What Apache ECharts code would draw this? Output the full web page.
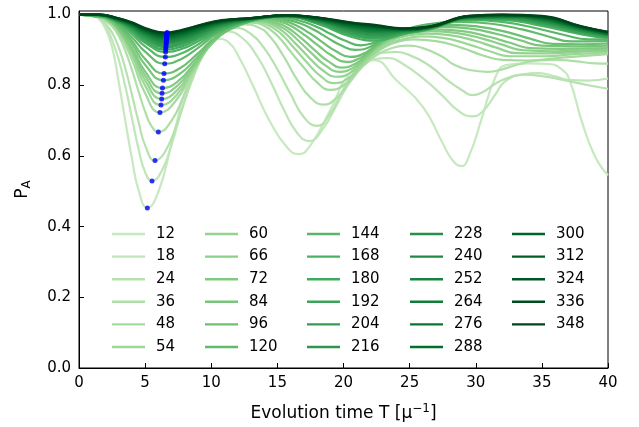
<!DOCTYPE html>
<html>
<head>
<meta charset="utf-8">
<script src="https://cdn.jsdelivr.net/npm/echarts@6/dist/echarts.min.js"></script>
<style>html,body{margin:0;padding:0;background:#fff;}#c{width:639px;height:427px;}</style>
</head>
<body>
<div id="c"></div>
<script>
// ---- data ----
const seriesNames = ['12','18','24','36','48','54','60','66','72','84','96','120','144','168','180','192','204','216','228','240','252','264','276','288','300','312','324','336','348'];
const legendCols = [['12','18','24','36','48','54'],['60','66','72','84','96','120'],['144','168','180','192','204','216'],['228','240','252','264','276','288'],['300','312','324','336','348']];
const xTicks = [0,5,10,15,20,25,30,35,40];
const yTicks = [0,0.2,0.4,0.6,0.8,1.0];

// first-dip minima (blue dots)
const dipT = [5.17,5.52,5.75,6.00,6.12,6.20,6.25,6.28,6.31,6.38,6.43,6.48,6.53,6.55,6.56,6.57,6.58,6.59,6.60,6.61,6.61,6.62,6.63,6.63,6.64,6.64,6.65,6.65,6.66];
const dipP = [0.453,0.529,0.587,0.668,0.723,0.744,0.761,0.777,0.792,0.814,0.833,0.861,0.880,0.894,0.901,0.907,0.912,0.917,0.921,0.925,0.929,0.932,0.935,0.938,0.941,0.943,0.945,0.947,0.949];

const c12 = [[0,1],[1,0.997],[1.5,0.988],[2,0.96],[2.5,0.908],[3,0.81],[3.5,0.70],[4,0.593],[4.5,0.504],[5.17,0.453],[6,0.498],[7,0.635],[8,0.779],[9,0.873],[10.4,0.932],[11.3,0.922],[12.2,0.872],[13.2,0.795],[14.4,0.70],[15.7,0.626],[16.6,0.605],[17.5,0.63],[19,0.73],[20.5,0.834],[22.3,0.871],[24,0.814],[26,0.739],[27.5,0.636],[28.2,0.59],[28.9,0.571],[29.6,0.61],[30.4,0.70],[31.5,0.824],[32.3,0.857],[34,0.862],[35.5,0.86],[36.5,0.845],[37.1,0.814],[38,0.70],[39,0.60],[40,0.545]];
const c18 = [[0,1],[1,0.998],[1.5,0.99],[2,0.97],[2.5,0.928],[3,0.873],[3.5,0.797],[4,0.708],[4.5,0.62],[5,0.554],[5.52,0.529],[6.3,0.561],[7,0.632],[8,0.759],[9,0.862],[10,0.919],[11.2,0.952],[12.3,0.935],[13.5,0.88],[14.5,0.81],[15.5,0.73],[16.5,0.665],[17.4,0.642],[18.5,0.68],[19.5,0.745],[20.5,0.81],[21.5,0.855],[22.5,0.875],[23.4,0.877],[24.5,0.86],[26,0.82],[27.5,0.77],[28.6,0.73],[29.7,0.712],[30.5,0.725],[31.5,0.775],[32.2,0.81],[33.5,0.83],[34.7,0.834],[36,0.825],[37,0.815],[38.5,0.813],[40,0.819]];
const c24 = [[0,1],[1,0.999],[1.5,0.992],[2,0.975],[2.5,0.949],[3,0.907],[3.5,0.848],[4,0.774],[4.5,0.697],[5,0.63],[5.75,0.587],[6.5,0.611],[7.5,0.701],[8.5,0.809],[9.5,0.892],[10.5,0.936],[11.8,0.962],[13,0.945],[14,0.905],[15,0.845],[16,0.775],[17,0.71],[18,0.685],[19,0.72],[20,0.79],[21,0.845],[22,0.878],[23,0.892],[24,0.894],[25,0.885],[26.5,0.855],[28,0.81],[29,0.785],[29.7,0.772],[30.5,0.78],[31.5,0.805],[32.5,0.822],[33.5,0.83],[35,0.826],[36.7,0.814],[38.5,0.80],[40,0.79]];
const c36 = [[0,1],[1,0.999],[1.5,0.994],[2,0.982],[2.5,0.967],[3,0.94],[3.5,0.898],[4,0.844],[4.5,0.783],[5,0.725],[5.5,0.683],[6,0.668],[7,0.7],[8,0.777],[9,0.86],[10,0.921],[11,0.953],[12.5,0.972],[13.5,0.965],[14.5,0.935],[15.5,0.88],[16.5,0.815],[17.5,0.765],[18.5,0.745],[19.5,0.765],[20.5,0.81],[21.5,0.855],[22.5,0.885],[23.5,0.903],[24.8,0.912],[26,0.905],[27.5,0.88],[28.4,0.857],[29.5,0.843],[30.9,0.838],[32,0.845],[33.5,0.862],[34.7,0.87],[36,0.872],[37.5,0.868],[39,0.862],[40,0.861]];
const c48 = [[0,1],[1.5,0.993],[2.2,0.981],[3,0.949],[4,0.873],[5,0.777],[6.12,0.723],[7.32,0.756],[8.62,0.839],[10.12,0.924],[11.5,0.962],[13,0.977],[14,0.968],[15,0.94],[16,0.895],[17,0.85],[18,0.808],[19,0.787],[20,0.80],[21,0.838],[22,0.878],[23,0.905],[24,0.922],[25.3,0.93],[27,0.925],[29,0.905],[30.5,0.885],[32,0.872],[34,0.87],[36.5,0.878],[40,0.888]];
const c54 = [[0,1],[1.5,0.994],[2.2,0.982],[3,0.953],[4,0.886],[5,0.799],[6.2,0.744],[7.4,0.773],[8.7,0.847],[10.2,0.925],[11.6,0.965],[13.2,0.979],[14.2,0.972],[15.2,0.948],[16.2,0.908],[17.2,0.866],[18.2,0.828],[19.3,0.806],[20.3,0.818],[21.3,0.853],[22.3,0.89],[23.3,0.915],[24.5,0.93],[25.8,0.938],[27.5,0.934],[29.5,0.915],[31,0.897],[32.6,0.882],[35,0.882],[37.5,0.888],[40,0.893]];
const c60 = [[0,1],[1.5,0.994],[2.2,0.984],[3,0.956],[4,0.894],[5,0.814],[6.25,0.761],[7.45,0.787],[8.75,0.853],[10.25,0.926],[11.8,0.966],[13.4,0.981],[14.4,0.975],[15.4,0.953],[16.4,0.917],[17.4,0.878],[18.4,0.843],[19.5,0.824],[20.5,0.835],[21.5,0.868],[22.5,0.902],[23.5,0.925],[24.8,0.94],[26.2,0.946],[28,0.942],[30,0.925],[31.5,0.907],[33.1,0.891],[35.5,0.89],[38,0.895],[40,0.897]];
const c66 = [[0,1],[1.5,0.993],[2.2,0.985],[3,0.957],[4,0.9],[5,0.827],[6.28,0.777],[7.48,0.8],[8.78,0.859],[10.28,0.927],[12,0.968],[13.6,0.983],[14.6,0.977],[15.6,0.958],[16.6,0.926],[17.6,0.89],[18.6,0.857],[19.7,0.838],[20.7,0.849],[21.7,0.88],[22.7,0.912],[23.7,0.933],[25,0.947],[26.6,0.953],[28.5,0.948],[30.5,0.932],[32,0.915],[33.6,0.899],[36,0.896],[38.3,0.899],[40,0.90]];
const c72 = [[0,1],[1.5,0.993],[2.2,0.986],[3,0.959],[4,0.906],[5,0.839],[6.31,0.792],[7.51,0.812],[8.81,0.866],[10.31,0.929],[12.1,0.97],[13.8,0.985],[14.8,0.979],[15.8,0.962],[16.8,0.933],[17.8,0.9],[18.8,0.869],[19.9,0.85],[20.9,0.861],[21.9,0.89],[22.9,0.92],[24,0.94],[25.4,0.953],[27,0.958],[29,0.953],[31,0.937],[32.6,0.92],[34.1,0.905],[36.5,0.903],[38.5,0.904],[40,0.905]];
const c84 = [[0,1],[1.5,0.994],[2.2,0.987],[3,0.963],[4,0.917],[5,0.858],[6.38,0.814],[7.58,0.831],[8.88,0.877],[10.38,0.933],[12.3,0.972],[14.1,0.987],[15.1,0.981],[16.1,0.966],[17.1,0.941],[18.1,0.912],[19.1,0.884],[20.2,0.866],[21.2,0.876],[22.2,0.903],[23.2,0.93],[24.4,0.948],[25.9,0.96],[27.6,0.965],[29.6,0.96],[31.6,0.945],[33.3,0.928],[35,0.912],[37.5,0.91],[40,0.912]];
const c96 = [[0,1],[1.5,0.994],[2.2,0.988],[3,0.967],[4,0.926],[5,0.874],[6.43,0.833],[7.63,0.848],[8.93,0.888],[10.43,0.938],[12.4,0.974],[14.4,0.989],[15.4,0.983],[16.4,0.97],[17.4,0.948],[18.4,0.922],[19.4,0.897],[20.5,0.88],[21.5,0.889],[22.5,0.914],[23.5,0.937],[24.8,0.955],[26.4,0.966],[28.2,0.971],[30.2,0.966],[32.3,0.951],[34.1,0.932],[35.8,0.917],[38,0.916],[40,0.918]];
const c120 = [[0,1],[1.5,0.995],[2.2,0.99],[3,0.97],[4,0.936],[5,0.895],[6.48,0.861],[7.68,0.873],[8.98,0.905],[10.48,0.946],[12.6,0.977],[14.8,0.991],[15.8,0.985],[16.8,0.974],[17.8,0.956],[18.8,0.934],[19.8,0.913],[20.9,0.90],[21.9,0.907],[22.9,0.928],[24,0.948],[25.4,0.964],[27.1,0.974],[29,0.979],[31.2,0.974],[33.5,0.958],[35.5,0.938],[37.2,0.924],[40,0.925]];
const c144 = [[0,1],[1.5,0.996],[2.2,0.991],[3,0.974],[4,0.945],[5,0.91],[6.53,0.88],[7.73,0.89],[9.03,0.916],[10.53,0.951],[12.8,0.98],[15.1,0.993],[16.1,0.988],[17.1,0.978],[18.1,0.963],[19.1,0.944],[20.2,0.925],[21.3,0.913],[22.3,0.92],[23.4,0.938],[24.6,0.956],[26,0.97],[27.8,0.979],[29.6,0.985],[32,0.979],[34.5,0.962],[36.7,0.942],[38.5,0.93],[40,0.93]];

// densely packed curves share one time grid
const bandT = [0,1.5,3,4,5,6.6,7.8,9.2,10.8,13,15.7,18,20.5,22.5,24.5,26.5,29.5,32,35,38,40];
const b168 = [1,0.997,0.976,0.951,0.920,0.894,0.903,0.928,0.958,0.983,0.993,0.974,0.938,0.926,0.944,0.958,0.986,0.985,0.968,0.944,0.933];
const b180 = [1,0.997,0.978,0.954,0.925,0.901,0.910,0.934,0.961,0.984,0.994,0.976,0.943,0.932,0.946,0.959,0.987,0.987,0.972,0.947,0.935];
const b192 = [1,0.998,0.979,0.957,0.930,0.907,0.916,0.938,0.964,0.985,0.994,0.978,0.947,0.936,0.948,0.960,0.988,0.989,0.975,0.949,0.937];
const b204 = [1,0.998,0.980,0.960,0.934,0.912,0.921,0.942,0.967,0.985,0.995,0.980,0.951,0.940,0.950,0.961,0.989,0.990,0.977,0.952,0.939];
const b216 = [1,0.998,0.981,0.962,0.938,0.917,0.926,0.946,0.969,0.986,0.995,0.982,0.955,0.944,0.951,0.961,0.990,0.991,0.980,0.954,0.941];
const b228 = [1,0.999,0.982,0.964,0.941,0.921,0.930,0.949,0.971,0.986,0.996,0.983,0.958,0.948,0.952,0.962,0.991,0.992,0.982,0.955,0.942];
const b240 = [1,0.999,0.983,0.966,0.944,0.925,0.934,0.952,0.973,0.987,0.996,0.984,0.961,0.951,0.954,0.963,0.992,0.994,0.984,0.957,0.943];
const b252 = [1,0.999,0.984,0.968,0.947,0.929,0.937,0.955,0.975,0.988,0.996,0.985,0.963,0.954,0.955,0.963,0.992,0.995,0.986,0.959,0.944];
const b264 = [1,0.999,0.985,0.970,0.949,0.932,0.940,0.958,0.976,0.988,0.997,0.986,0.966,0.956,0.956,0.964,0.993,0.995,0.987,0.960,0.945];
const b276 = [1,0.999,0.986,0.971,0.951,0.935,0.943,0.960,0.977,0.988,0.997,0.987,0.968,0.959,0.957,0.964,0.993,0.996,0.989,0.961,0.946];
const b288 = [1,0.999,0.986,0.973,0.954,0.938,0.946,0.962,0.979,0.989,0.997,0.988,0.970,0.961,0.958,0.964,0.994,0.997,0.990,0.962,0.947];
const b300 = [1,1.000,0.987,0.974,0.956,0.941,0.949,0.965,0.980,0.989,0.997,0.989,0.972,0.964,0.959,0.965,0.995,0.998,0.992,0.964,0.948];
const b312 = [1,1.000,0.988,0.975,0.957,0.943,0.951,0.966,0.981,0.989,0.998,0.990,0.974,0.965,0.959,0.965,0.995,0.998,0.993,0.965,0.949];
const b324 = [1,1.000,0.988,0.976,0.959,0.945,0.953,0.968,0.982,0.990,0.998,0.991,0.975,0.967,0.960,0.965,0.995,0.999,0.994,0.965,0.950];
const b336 = [1,1.000,0.989,0.977,0.960,0.947,0.955,0.970,0.983,0.990,0.998,0.991,0.977,0.968,0.960,0.966,0.996,0.999,0.995,0.966,0.950];
const b348 = [1,1.000,0.989,0.978,0.962,0.949,0.957,0.971,0.984,0.990,0.998,0.992,0.978,0.970,0.961,0.966,0.996,1.000,0.996,0.967,0.951];

// ---- build ----
const pairCurves = [c12,c18,c24,c36,c48,c54,c60,c66,c72,c84,c96,c120,c144];
const bandCurves = [b168,b180,b192,b204,b216,b228,b240,b252,b264,b276,b288,b300,b312,b324,b336,b348];
const allCurves = pairCurves.concat(bandCurves.map(v => v.map((p, k) => [bandT[k], p])));

const greensStops = [[247,252,245],[229,245,224],[199,233,192],[161,217,155],[116,196,118],[65,171,93],[35,139,69],[0,109,44],[0,68,27]];
function greens(t) {
  const s = t * 8, i = Math.min(7, Math.floor(s)), f = s - i;
  const a = greensStops[i], b = greensStops[i + 1];
  return 'rgb(' + a.map((v, k) => Math.round(v + (b[k] - v) * f)).join(',') + ')';
}

const FONT = 'DejaVu Sans';
const series = allCurves.map((d, i) => ({
  name: seriesNames[i], type: 'line', data: d, smooth: 0.5, symbol: 'none', showSymbol: false,
  lineStyle: { width: 2.2, color: greens(0.25 + 0.75 * i / 28) },
  itemStyle: { color: greens(0.25 + 0.75 * i / 28) },
  silent: true, emphasis: { disabled: true }, z: 2
}));
series.push({
  type: 'scatter', data: dipT.map((t, k) => [t, dipP[k]]), symbolSize: 5,
  itemStyle: { color: '#0000ff' }, silent: true, z: 5
});

const legendLeft = [107, 200, 302, 405, 507];
const legends = legendCols.map((names, c) => ({
  data: names, orient: 'vertical', left: legendLeft[c], top: 221,
  icon: 'rect', itemWidth: 33, itemHeight: 2.4, itemGap: 6.6, selectedMode: false,
  textStyle: { fontSize: 15, fontFamily: FONT, color: '#000', lineHeight: 16, padding: [0, 0, 0, 6] }
}));

const chart = echarts.init(document.getElementById('c'), null, { renderer: 'canvas' });
chart.setOption({
  animation: false,
  backgroundColor: '#fff',
  grid: { left: 79, right: 31, top: 11, bottom: 59, show: true, borderColor: '#000', borderWidth: 1, outerBoundsMode: 'none' },
  legend: legends,
  xAxis: {
    type: 'value', min: xTicks[0], max: xTicks[xTicks.length - 1], interval: 5,
    axisLine: { show: true, lineStyle: { color: '#000', width: 1 } },
    axisTick: { show: true, inside: true, length: 5, lineStyle: { color: '#000', width: 1 } },
    axisLabel: { fontSize: 15, fontFamily: FONT, color: '#000', margin: 8 },
    splitLine: { show: false },
    name: 'Evolution time T [μ{sup|−1}]', nameLocation: 'middle', nameGap: 35,
    nameTextStyle: { fontSize: 17, fontFamily: FONT, color: '#000',
      rich: { sup: { fontSize: 12, fontFamily: FONT, color: '#000', padding: [0, 0, 9, 0] } } }
  },
  yAxis: {
    type: 'value', min: 0, max: 1.01, interval: 0.2,
    axisLine: { show: true, lineStyle: { color: '#000', width: 1 } },
    axisTick: { show: true, inside: true, length: 5, lineStyle: { color: '#000', width: 1 } },
    axisLabel: { fontSize: 15, fontFamily: FONT, color: '#000', margin: 8, showMaxLabel: false,
      formatter: v => (yTicks.some(t => Math.abs(t - v) < 1e-6) ? v.toFixed(1) : '') },
    splitLine: { show: false },
    name: 'P{sub|A}', nameLocation: 'middle', nameGap: 46,
    nameTextStyle: { fontSize: 17, fontFamily: FONT, color: '#000',
      rich: { sub: { fontSize: 12, fontFamily: FONT, color: '#000', padding: [9, 0, 0, 0] } } }
  },
  series: series
});
</script>
</body>
</html>
